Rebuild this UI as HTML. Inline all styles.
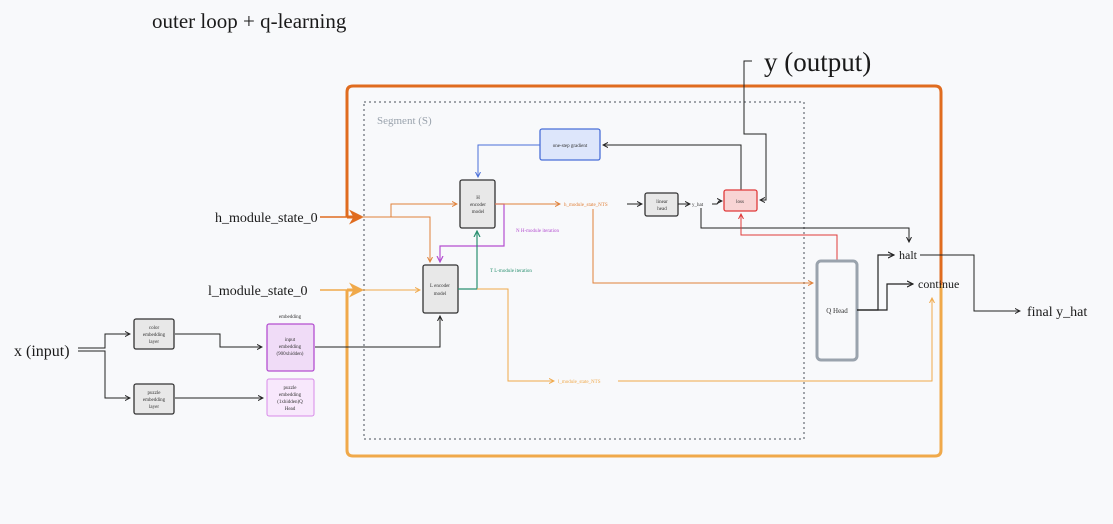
<!DOCTYPE html>
<html><head><meta charset="utf-8"><style>
html,body{margin:0;padding:0;background:#f8f9fb;}
svg{display:block;font-family:"Liberation Serif",serif;}
</style></head><body>
<svg width="1113" height="524" viewBox="0 0 1113 524" xmlns="http://www.w3.org/2000/svg">
<defs>
<marker id="ak" markerWidth="6" markerHeight="6" refX="5" refY="3" orient="auto"><path d="M0,0.5 L5,3 L0,5.5" fill="none" stroke="#222" stroke-width="1"/></marker>
<marker id="ao" markerWidth="6" markerHeight="6" refX="5" refY="3" orient="auto"><path d="M0,0.5 L5,3 L0,5.5" fill="none" stroke="#e0813a" stroke-width="1"/></marker>
<marker id="al" markerWidth="6" markerHeight="6" refX="5" refY="3" orient="auto"><path d="M0,0.5 L5,3 L0,5.5" fill="none" stroke="#f0a94a" stroke-width="1"/></marker>
<marker id="ab" markerWidth="6" markerHeight="6" refX="5" refY="3" orient="auto"><path d="M0,0.5 L5,3 L0,5.5" fill="none" stroke="#4a6fd8" stroke-width="1"/></marker>
<marker id="ap" markerWidth="6" markerHeight="6" refX="5" refY="3" orient="auto"><path d="M0,0.5 L5,3 L0,5.5" fill="none" stroke="#b44fd0" stroke-width="1"/></marker>
<marker id="ag" markerWidth="6" markerHeight="6" refX="5" refY="3" orient="auto"><path d="M0,0.5 L5,3 L0,5.5" fill="none" stroke="#2a9070" stroke-width="1"/></marker>
<marker id="ar" markerWidth="6" markerHeight="6" refX="5" refY="3" orient="auto"><path d="M0,0.5 L5,3 L0,5.5" fill="none" stroke="#e03a3a" stroke-width="1"/></marker>
<marker id="aO" markerWidth="5" markerHeight="5" refX="4" refY="2.5" orient="auto"><path d="M0,0 L5,2.5 L0,5 L1.5,2.5 Z" fill="#e06c1f"/></marker>
<marker id="aL" markerWidth="5" markerHeight="5" refX="4" refY="2.5" orient="auto"><path d="M0,0 L5,2.5 L0,5 L1.5,2.5 Z" fill="#f0a94a"/></marker>
</defs>

<text x="152" y="28" font-size="21" fill="#1a1a1a">outer loop + q-learning</text>
<text x="764" y="71" font-size="27" fill="#1a1a1a">y (output)</text>

<!-- outer loop -->
<path d="M347,217 L347,92 Q347,86 353,86 L935,86 Q941,86 941,92 L941,285" fill="none" stroke="#e06c1f" stroke-width="3"/>
<path d="M941,285 L941,450 Q941,456 935,456 L353,456 Q347,456 347,450 L347,290" fill="none" stroke="#f0a94a" stroke-width="3"/>
<path d="M347,217 L361,217" stroke="#e06c1f" stroke-width="3" marker-end="url(#aO)"/>
<path d="M347,290 L361,290" stroke="#f0a94a" stroke-width="3" marker-end="url(#aL)"/>

<!-- segment box -->
<rect x="364" y="102" width="440" height="337" fill="none" stroke="#a0a4aa" stroke-width="2" stroke-dasharray="2,3"/>
<text x="377" y="124" font-size="11" fill="#9aa3ad">Segment (S)</text>

<!-- left labels -->
<text x="215" y="222" font-size="14" fill="#1a1a1a">h_module_state_0</text>
<line x1="320" y1="217" x2="347" y2="217" stroke="#e06c1f" stroke-width="1.5"/>
<text x="208" y="295" font-size="14" fill="#1a1a1a">l_module_state_0</text>
<line x1="320" y1="290" x2="347" y2="290" stroke="#f0a94a" stroke-width="1.5"/>
<text x="14" y="356" font-size="16" fill="#1a1a1a">x (input)</text>

<!-- x input lines -->
<path d="M78,348 L105,348 L105,334 L130,334" fill="none" stroke="#222" stroke-width="1" marker-end="url(#ak)"/>
<path d="M78,351 L105,351 L105,398 L130,398" fill="none" stroke="#222" stroke-width="1" marker-end="url(#ak)"/>
<rect x="134" y="319" width="40" height="30" rx="2" fill="#e8e8e8" stroke="#333" stroke-width="1.3"/>
<text x="154" y="329" font-size="5" text-anchor="middle" fill="#333">color</text>
<text x="154" y="336" font-size="5" text-anchor="middle" fill="#333">embedding</text>
<text x="154" y="343" font-size="5" text-anchor="middle" fill="#333">layer</text>
<rect x="134" y="384" width="40" height="30" rx="2" fill="#e8e8e8" stroke="#333" stroke-width="1.3"/>
<text x="154" y="394" font-size="5" text-anchor="middle" fill="#333">puzzle</text>
<text x="154" y="401" font-size="5" text-anchor="middle" fill="#333">embedding</text>
<text x="154" y="408" font-size="5" text-anchor="middle" fill="#333">layer</text>
<path d="M175,334 L220,334 L220,347 L262,347" fill="none" stroke="#222" stroke-width="1" marker-end="url(#ak)"/>
<path d="M175,398 L263,398" fill="none" stroke="#222" stroke-width="1" marker-end="url(#ak)"/>
<text x="290" y="318" font-size="5" text-anchor="middle" fill="#333">embedding</text>
<rect x="267" y="324" width="47" height="47" rx="2" fill="#f0dcf7" stroke="#b44fd0" stroke-width="1.3"/>
<text x="290" y="341" font-size="5" text-anchor="middle" fill="#333">input</text>
<text x="290" y="348" font-size="5" text-anchor="middle" fill="#333">embedding</text>
<text x="290" y="355" font-size="5" text-anchor="middle" fill="#333">(900xhidden)</text>
<rect x="267" y="379" width="47" height="37" rx="2" fill="#f8e8fc" stroke="#d88ae8" stroke-width="1"/>
<text x="290" y="389" font-size="5" text-anchor="middle" fill="#333">puzzle</text>
<text x="290" y="396" font-size="5" text-anchor="middle" fill="#333">embedding</text>
<text x="290" y="403" font-size="5" text-anchor="middle" fill="#333">(1xhidden)Q</text>
<text x="290" y="410" font-size="5" text-anchor="middle" fill="#333">Head</text>
<path d="M315,347 L440,347 L440,316" fill="none" stroke="#222" stroke-width="1" marker-end="url(#ak)"/>

<!-- h state routing -->
<path d="M361,217 L391,217 L391,204 L457,204" fill="none" stroke="#e0813a" stroke-width="1" marker-end="url(#ao)"/>
<path d="M391,217 L430,217 L430,262" fill="none" stroke="#e0813a" stroke-width="1" marker-end="url(#ao)"/>
<path d="M361,290 L420,290" fill="none" stroke="#f0a94a" stroke-width="1" marker-end="url(#al)"/>

<!-- H encoder -->
<rect x="460" y="180" width="35" height="48" rx="2" fill="#e8e8e8" stroke="#333" stroke-width="1.3"/>
<text x="478" y="199" font-size="5" text-anchor="middle" fill="#333">H</text>
<text x="478" y="206" font-size="5" text-anchor="middle" fill="#333">encoder</text>
<text x="478" y="213" font-size="5" text-anchor="middle" fill="#333">model</text>
<!-- L encoder -->
<rect x="423" y="265" width="35" height="48" rx="2" fill="#e8e8e8" stroke="#333" stroke-width="1.3"/>
<text x="440" y="287" font-size="5" text-anchor="middle" fill="#333">L encoder</text>
<text x="440" y="295" font-size="5" text-anchor="middle" fill="#333">model</text>

<!-- purple N H iteration -->
<path d="M495,204 L504,204 L504,246 L440,246 L440,262" fill="none" stroke="#b44fd0" stroke-width="1.2" marker-end="url(#ap)"/>
<text x="516" y="232" font-size="5" fill="#b44fd0">N H-module iteration</text>
<!-- green T L iteration -->
<path d="M458,289 L477,289 L477,231" fill="none" stroke="#2a9070" stroke-width="1.2" marker-end="url(#ag)"/>
<text x="490" y="272" font-size="5" fill="#2a9070">T L-module iteration</text>
<path d="M477,289 L508,289 L508,381 L554,381" fill="none" stroke="#f0a94a" stroke-width="1" marker-end="url(#al)"/>
<text x="558" y="383" font-size="5" fill="#f0a94a">l_module_state_NTS</text>
<path d="M618,381 L932,381 L932,298" fill="none" stroke="#f0a94a" stroke-width="1" marker-end="url(#al)"/>

<!-- h NTS -->
<path d="M495,204 L560,204" fill="none" stroke="#e0813a" stroke-width="1" marker-end="url(#ao)"/>
<text x="564" y="206" font-size="5" fill="#e0813a">h_module_state_NTS</text>
<path d="M627,204 L642,204" fill="none" stroke="#222" stroke-width="1" marker-end="url(#ak)"/>
<path d="M593,209 L593,283 L813,283" fill="none" stroke="#e0813a" stroke-width="1" marker-end="url(#ao)"/>

<!-- one-step gradient -->
<rect x="540" y="129" width="60" height="31" rx="2" fill="#dde6fb" stroke="#4a6fd8" stroke-width="1.3"/>
<text x="570" y="147" font-size="5" text-anchor="middle" fill="#333">one-step gradient</text>
<path d="M540,145 L478,145 L478,177" fill="none" stroke="#4a6fd8" stroke-width="1" marker-end="url(#ab)"/>
<path d="M741,190 L741,145 L603,145" fill="none" stroke="#222" stroke-width="1" marker-end="url(#ak)"/>

<!-- linear head -->
<rect x="645" y="193" width="33" height="23" rx="2" fill="#e8e8e8" stroke="#333" stroke-width="1.3"/>
<text x="662" y="203" font-size="5" text-anchor="middle" fill="#333">linear</text>
<text x="662" y="210" font-size="5" text-anchor="middle" fill="#333">head</text>
<path d="M678,204 L690,204" fill="none" stroke="#222" stroke-width="1" marker-end="url(#ak)"/>
<text x="692" y="206" font-size="5" fill="#333">y_hat</text>
<path d="M712,204 L717,204 L719,201 L722,201" fill="none" stroke="#222" stroke-width="1" marker-end="url(#ak)"/>

<!-- loss -->
<rect x="724" y="190" width="33" height="21" rx="2" fill="#f8d4d4" stroke="#e03a3a" stroke-width="1.3"/>
<text x="740" y="203" font-size="5" text-anchor="middle" fill="#333">loss</text>
<path d="M752,61 L744,61 L744,134 L766,134 L766,200 L760,200" fill="none" stroke="#222" stroke-width="1" marker-end="url(#ak)"/>

<!-- y_hat to halt -->
<path d="M701,208 L701,228 L909,228 L909,242" fill="none" stroke="#222" stroke-width="1" marker-end="url(#ak)"/>
<!-- Q head to loss red -->
<path d="M837,261 L837,235 L741,235 L741,214" fill="none" stroke="#e03a3a" stroke-width="1" marker-end="url(#ar)"/>

<!-- Q Head -->
<rect x="817" y="261" width="40" height="99" rx="4" fill="#f8f9fb" stroke="#9aa3ad" stroke-width="3"/>
<text x="837" y="313" font-size="7" text-anchor="middle" fill="#333">Q Head</text>
<path d="M857,310 L878,310 L878,255 L894,255" fill="none" stroke="#222" stroke-width="1.2" marker-end="url(#ak)"/>
<path d="M857,310 L887,310 L887,284 L913,284" fill="none" stroke="#222" stroke-width="1.2" marker-end="url(#ak)"/>
<text x="899" y="259" font-size="12" fill="#1a1a1a">halt</text>
<text x="918" y="288" font-size="12" fill="#1a1a1a">continue</text>
<path d="M920,255 L974,255 L974,311 L1020,311" fill="none" stroke="#222" stroke-width="1" marker-end="url(#ak)"/>
<text x="1027" y="316" font-size="14" fill="#1a1a1a">final y_hat</text>
</svg>
</body></html>
